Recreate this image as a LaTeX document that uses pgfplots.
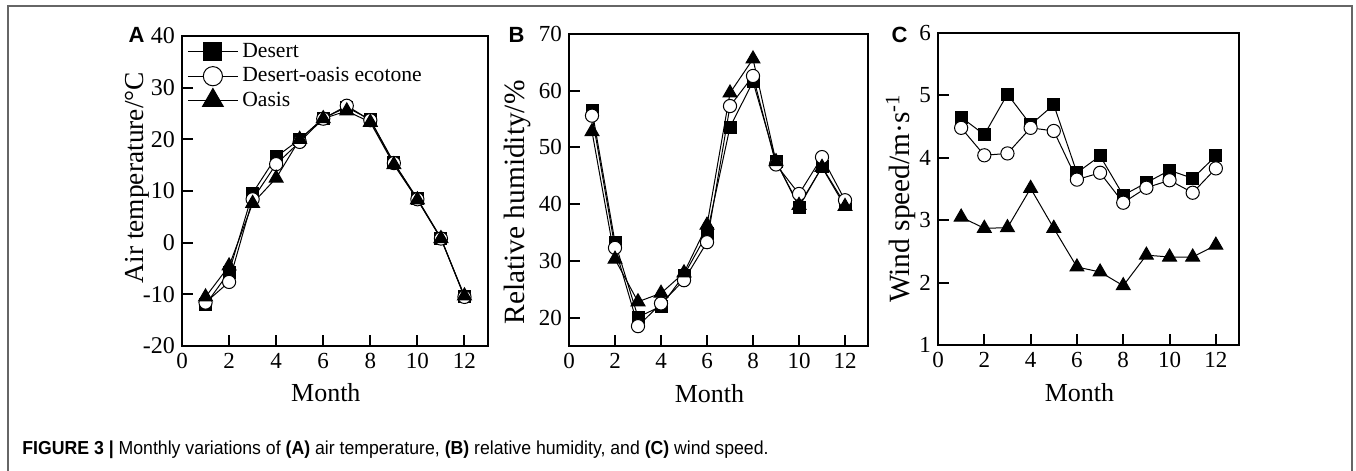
\documentclass[border=0pt]{standalone}
\usepackage{fontspec}
\setmainfont{Liberation Serif}
\newfontfamily\sansfont{Liberation Sans}
\newfontfamily\capfont[FakeStretch=0.94]{Liberation Sans}
\usepackage{pgfplots}
\pgfplotsset{compat=1.18}

\pgfplotsset{
  panel/.style={
    scale only axis, anchor=south west,
    xmin=0, xmax=13, xtick={0,2,...,12}, xticklabels={0,2,4,6,8,10,12},
    axis line style={line width=1.1pt},
    tick align=inside, xtick pos=bottom, ytick pos=left,
    major tick length=5.5pt, tick style={line width=1pt, black},
    ticklabel style={font=\fontsize{11.5}{12}\selectfont},
    xlabel={Month},
    every axis x label/.style={at={(axis description cs:0.47,-0.151)}, anchor=center, font=\fontsize{13}{15}\selectfont},
    every axis y label/.style={rotate=90, anchor=center, font=\fontsize{14}{16}\selectfont},
    clip=false,
  },
  des/.style={black, line width=0.5pt, mark=square*, mark size=3pt, mark options={solid, fill=black}},
  eco/.style={black, line width=0.5pt, mark=*, mark size=3.3pt, mark options={solid, fill=white}},
  oas/.style={black, line width=0.5pt, mark=triangle*, mark size=4pt, mark options={solid, fill=black}},
}

\begin{document}
\begin{tikzpicture}
\path[use as bounding box] (0pt,0pt) rectangle (678pt,235.5pt);
\draw[gray!80!black, line width=0.9pt] (4pt,0pt) -- (4pt,232.5pt) -- (676pt,232.5pt) -- (676pt,0pt);

% (A) air temperature
\begin{axis}[panel, at={(91pt,62.5pt)}, width=153pt, height=155pt,
  ymin=-20, ymax=40, ytick={-20,-10,...,40}, yticklabels={-20,-10,0,10,20,30,40},
  yticklabel style={font=\fontsize{12}{13}\selectfont},
  ylabel={Air temperature/°C},
  ylabel style={at={(axis description cs:-0.147,0.543)}, font=\fontsize{13.7}{15}\selectfont},
  legend image code/.code={\draw[mark repeat=2, mark phase=2, #1] plot coordinates {(0pt,0pt) (12.5pt,0pt) (25pt,0pt)};},
  legend style={at={(axis description cs:0,1)}, anchor=north west, xshift=2.5pt, yshift=-1.5pt,
    draw=none, fill=none, font=\fontsize{10.8}{12}\selectfont, row sep=-0.5pt,
    cells={anchor=west}, inner sep=0pt},
]
\addplot[des, legend image post style={mark size=4.5pt}] coordinates {
(1,-12) (2,-5.7) (3,9.6) (4,16.6) (5,20) (6,24.1) (7,26.2) (8,23.8) (9,15.5) (10,8.5) (11,0.9) (12,-10.5)};
\addplot[eco, legend image post style={mark size=4.8pt}] coordinates {
(1,-11.6) (2,-7.6) (3,8.4) (4,15.2) (5,19.5) (6,24) (7,26.5) (8,23.7) (9,15.4) (10,8.4) (11,0.8) (12,-10.5)};
\addplot[oas, legend image post style={mark size=6pt}] coordinates {
(1,-10.5) (2,-4.5) (3,7.6) (4,12.5) (5,20) (6,24) (7,25.5) (8,23.3) (9,15.1) (10,8.3) (11,0.8) (12,-10.3)};
\legend{Desert, Desert-oasis ecotone, Oasis}
\end{axis}

% (B) relative humidity
\begin{axis}[panel, at={(284.5pt,62.5pt)}, width=149.5pt, height=156pt,
  ymin=15, ymax=70, ytick={20,30,...,70}, yticklabels={20,30,40,50,60,70},
  ylabel={Relative humidity/\%},
  ylabel style={at={(axis description cs:-0.174,0.46)}, font=\fontsize{14.7}{16}\selectfont},
]
\addplot[des] coordinates {
(1,56.6) (2,33.3) (3,20.1) (4,22) (5,27.5) (6,34.8) (7,53.6) (8,61.6) (9,47.6) (10,39.5) (11,46.6) (12,40)};
\addplot[eco] coordinates {
(1,55.6) (2,32.3) (3,18.5) (4,22.5) (5,26.6) (6,33.3) (7,57.3) (8,62.6) (9,47) (10,41.8) (11,48.3) (12,40.7)};
\addplot[oas] coordinates {
(1,52.8) (2,30.3) (3,22.8) (4,24.3) (5,27.9) (6,36.3) (7,59.6) (8,65.6) (9,47.5) (10,39.8) (11,46.5) (12,39.6)};
\end{axis}

% (C) wind speed
\begin{axis}[panel, at={(469pt,63pt)}, width=150.5pt, height=156pt,
  ymin=1, ymax=6, ytick={1,...,6}, yticklabels={1,2,3,4,5,6},
  ylabel={Wind speed/m·s\textsuperscript{-1}},
  ylabel style={at={(axis description cs:-0.123,0.47)}, font=\fontsize{14.7}{16}\selectfont},
]
\addplot[des] coordinates {
(1,4.65) (2,4.37) (3,5.02) (4,4.53) (5,4.85) (6,3.76) (7,4.03) (8,3.4) (9,3.6) (10,3.8) (11,3.67) (12,4.03)};
\addplot[eco] coordinates {
(1,4.48) (2,4.04) (3,4.07) (4,4.48) (5,4.43) (6,3.65) (7,3.76) (8,3.28) (9,3.52) (10,3.64) (11,3.44) (12,3.83)};
\addplot[oas] coordinates {
(1,3.05) (2,2.87) (3,2.88) (4,3.51) (5,2.87) (6,2.25) (7,2.17) (8,1.95) (9,2.44) (10,2.41) (11,2.41) (12,2.6)};
\end{axis}

\node[anchor=east, font=\sansfont\bfseries\fontsize{11}{12}\selectfont, inner sep=0pt] at (72.5pt,218pt) {A};
\node[anchor=east, font=\sansfont\bfseries\fontsize{11}{12}\selectfont, inner sep=0pt] at (262.5pt,218pt) {B};
\node[anchor=east, font=\sansfont\bfseries\fontsize{11}{12}\selectfont, inner sep=0pt] at (454pt,218pt) {C};

\node[anchor=west, inner sep=0pt, font=\capfont\fontsize{9.4}{10}\selectfont] at (11pt,10.5pt)
  {\textbf{FIGURE 3 |} Monthly variations of \textbf{(A)} air temperature, \textbf{(B)} relative humidity, and \textbf{(C)} wind speed.};
\end{tikzpicture}
\end{document}
